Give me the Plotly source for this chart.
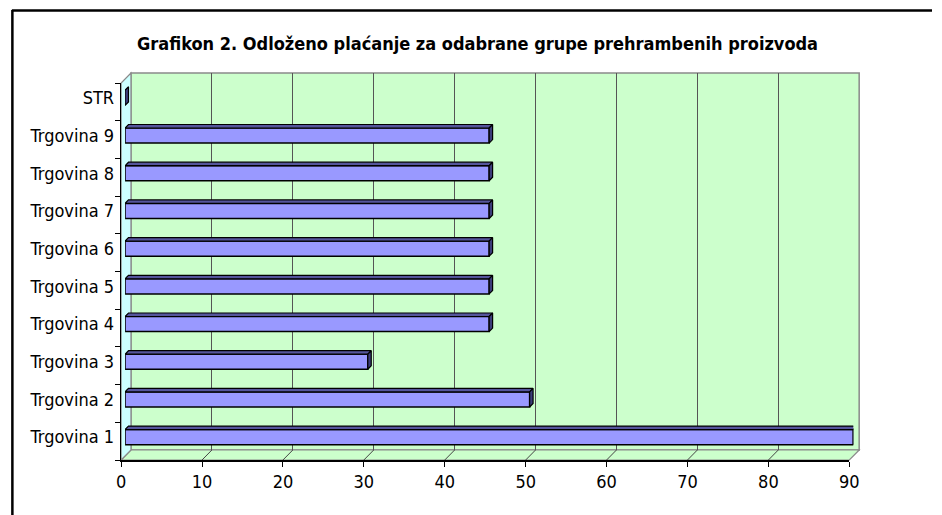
import plotly.graph_objects as go

categories = ["Trgovina 1", "Trgovina 2", "Trgovina 3", "Trgovina 4", "Trgovina 5",
              "Trgovina 6", "Trgovina 7", "Trgovina 8", "Trgovina 9", "STR"]
values = [90, 50, 30, 45, 45, 45, 45, 45, 45, 0]
x_ticks = [0, 10, 20, 30, 40, 50, 60, 70, 80, 90]
title_text = "Grafikon 2. Odloženo plaćanje za odabrane grupe prehrambenih proizvoda"

W, H = 942, 515
FONT = "DejaVu Sans Condensed, Liberation Sans Narrow, Arial Narrow, sans-serif"

def fx(px):
    return px / W

def fy(py):
    return 1 - py / H

FX0, FX1, FYB, FYT = 118, 858, 460, 83
D = 10
M = 4
BD = 3.5
XMAX = 90
n = len(categories)

px_per_x = (FX1 - FX0) / XMAX
px_per_y = (FYB - FYT) / n
dx = BD / px_per_x
dy = BD / px_per_y
bw = 0.4

fig = go.Figure()

fig.add_trace(go.Scatter(x=[None], y=[None], xaxis="x", yaxis="y",
                         hoverinfo="skip", showlegend=False))
fig.add_trace(go.Scatter(x=[None], y=[None], xaxis="x2", yaxis="y2",
                         hoverinfo="skip", showlegend=False))

idx = list(range(n))
fig.add_trace(go.Bar(x=values, y=idx, orientation="h", xaxis="x3", yaxis="y3",
                     width=bw, marker=dict(color="#9999FF", line=dict(color="black", width=1.5)),
                     showlegend=False, hoverinfo="x+y"))

tx, ty, sx, sy = [], [], [], []
for i, v in enumerate(values):
    top = i + bw / 2
    tx += [0, v, v + dx, dx, 0, None]
    ty += [top, top, top + dy, top + dy, top, None]
    bot = i - bw / 2
    sx += [v, v + dx, v + dx, v, v, None]
    sy += [bot, bot + dy, top + dy, top, bot, None]
fig.add_trace(go.Scatter(x=tx, y=ty, xaxis="x3", yaxis="y3", mode="lines", fill="toself",
                         fillcolor="#55559C", line=dict(color="black", width=1.2),
                         hoverinfo="skip", showlegend=False))
fig.add_trace(go.Scatter(x=sx, y=sy, xaxis="x3", yaxis="y3", mode="lines", fill="toself",
                         fillcolor="#3C3C7A", line=dict(color="black", width=1.2),
                         hoverinfo="skip", showlegend=False))

def path(pts):
    return "M " + " L ".join(f"{fx(a):.5f},{fy(b):.5f}" for a, b in pts) + " Z"

shapes = []
shapes.append(dict(type="rect", xref="paper", yref="paper", layer="below",
                   x0=fx(FX0 + D), x1=fx(FX1 + D), y0=fy(FYB - D), y1=fy(FYT - D),
                   fillcolor="#CCFFCC", line=dict(color="#8a8a8a", width=1.5)))
shapes.append(dict(type="path", xref="paper", yref="paper", layer="below",
                   path=path([(FX0, FYB), (FX1, FYB), (FX1 + D, FYB - D), (FX0 + D, FYB - D)]),
                   fillcolor="#CCFFCC", line=dict(color="#8a8a8a", width=1.2)))
shapes.append(dict(type="path", xref="paper", yref="paper", layer="below",
                   path=path([(FX0, FYB), (FX0, FYT), (FX0 + D, FYT - D), (FX0 + D, FYB - D)]),
                   fillcolor="#CCFFFF", line=dict(color="#8a8a8a", width=1.2)))
for t in x_ticks[1:-1]:
    p = FX0 + t * px_per_x
    shapes.append(dict(type="line", xref="paper", yref="paper", layer="below",
                       x0=fx(p), y0=fy(FYB), x1=fx(p + D), y1=fy(FYB - D),
                       line=dict(color="#444444", width=1)))
shapes.append(dict(type="line", xref="paper", yref="paper", x0=fx(7), x1=1, y0=fy(10.5), y1=fy(10.5),
                   line=dict(color="black", width=2.5)))
shapes.append(dict(type="line", xref="paper", yref="paper", x0=fx(7.5), x1=fx(7.5), y0=fy(10), y1=0,
                   line=dict(color="black", width=2.5)))

fig.update_layout(
    width=W, height=H,
    margin=dict(l=0, r=0, t=0, b=0),
    paper_bgcolor="white", plot_bgcolor="rgba(0,0,0,0)",
    font=dict(family=FONT, size=18, color="black"),
    shapes=shapes,
    showlegend=False,
    annotations=[dict(text="<b>" + title_text + "</b>", x=fx(480), y=fy(44), xref="paper", yref="paper",
                      showarrow=False, xanchor="center", yanchor="middle",
                      font=dict(family=FONT, size=18, color="black"))],
    xaxis=dict(domain=[fx(FX0 + D), fx(FX1 + D)], anchor="y", range=[0, XMAX],
               tickvals=x_ticks[1:-1], showgrid=True, gridcolor="#555555", gridwidth=1,
               showticklabels=False, ticks="", showline=False, zeroline=False),
    yaxis=dict(domain=[fy(FYB - D), fy(FYT - D)], anchor="x", range=[0, 1],
               showgrid=False, showticklabels=False, ticks="", showline=False, zeroline=False),
    xaxis2=dict(domain=[fx(FX0), fx(FX1)], anchor="y2", range=[0, XMAX],
                tickvals=x_ticks, ticks="outside", ticklen=5, tickcolor="black",
                showline=True, linecolor="black", linewidth=1.5, showgrid=False, zeroline=False,
                tickfont=dict(size=18)),
    yaxis2=dict(domain=[fy(FYB), fy(FYT)], anchor="x2", range=[-0.5, n - 0.5],
                tickvals=[k - 0.5 for k in range(n + 1)], ticks="outside", ticklen=5, tickcolor="black",
                showticklabels=False, showline=True, linecolor="black", linewidth=1.5,
                showgrid=False, zeroline=False),
    xaxis3=dict(domain=[fx(FX0 + M), fx(FX1 + M)], anchor="y3", range=[0, XMAX],
                visible=False, showgrid=False, zeroline=False),
    yaxis3=dict(domain=[fy(FYB - M), fy(FYT - M)], anchor="x3", range=[-0.5, n - 0.5],
                tickvals=idx, ticktext=categories, ticks="", showline=False, showgrid=False,
                zeroline=False, ticklabelstandoff=10, tickfont=dict(size=18)),
)

fig.write_html("out.html", config={"displayModeBar": False, "staticPlot": True},
               post_script=("document.documentElement.style.overflow='hidden';"
                            "document.body.style.margin='0';document.body.style.overflow='hidden';"))
